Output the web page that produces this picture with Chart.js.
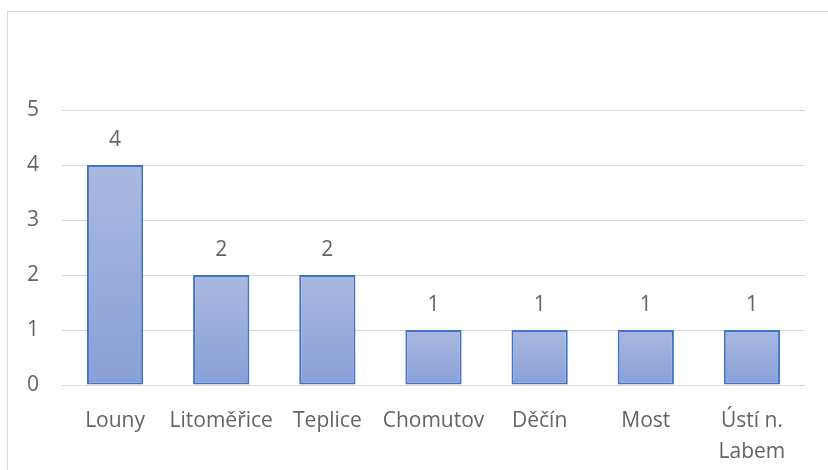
<!DOCTYPE html>
<html>
<head>
<meta charset="utf-8">
<script src="https://cdn.jsdelivr.net/npm/chart.js@4/dist/chart.umd.min.js"></script>
<style>
  html, body { margin: 0; padding: 0; background: #fff; overflow: hidden; }
  #frame { position: absolute; left: 7px; top: 11px; width: 840px; height: 480px; border: 1px solid #d9d9d9; }
  #wrap { position: absolute; left: 0; top: 0; width: 828px; height: 470px; }
</style>
</head>
<body>
<div id="frame"></div>
<div id="wrap"><canvas id="chart"></canvas></div>
<script>
const districts = ["Louny", "Litoměřice", "Teplice", "Chomutov", "Děčín", "Most", ["Ústí n.", "Labem"]];
const counts = [4, 2, 2, 1, 1, 1, 1];
const yTicks = [0, 1, 2, 3, 4, 5];

const textGray = "#646464";
const font = { family: "'Open Sans', sans-serif", size: 21, lineHeight: 1.5 };

// gradient per bar, light at the top, darker at the base
function barFill(ctx) {
    const chart = ctx.chart;
    if (!chart.chartArea || ctx.parsed == null) return "#9aaedc";
    const y = chart.scales.y;
    const top = y.getPixelForValue(ctx.parsed.y);
    const bottom = y.getPixelForValue(0);
    if (!(bottom > top)) return "#9aaedc";
    const g = chart.ctx.createLinearGradient(0, top, 0, bottom);
    g.addColorStop(0, "#aab9e0");
    g.addColorStop(1, "#88a0d8");
    return g;
}

const valueLabels = {
    id: "valueLabels",
    afterDatasetsDraw(chart) {
        const c = chart.ctx;
        const meta = chart.getDatasetMeta(0);
        c.save();
        c.fillStyle = textGray;
        c.font = font.size + "px " + font.family;
        c.textAlign = "center";
        c.textBaseline = "middle";
        meta.data.forEach((bar, i) => {
            c.fillText(String(counts[i]), bar.x, bar.y - 25);
        });
        c.restore();
    }
};

new Chart(document.getElementById("chart"), {
    type: "bar",
    data: {
        labels: districts,
        datasets: [{
            data: counts,
            backgroundColor: barFill,
            borderColor: "#4472c4",
            borderWidth: 2,
            borderSkipped: false,
            categoryPercentage: 1,
            barPercentage: 0.53
        }]
    },
    options: {
        responsive: true,
        maintainAspectRatio: false,
        animation: false,
        layout: { padding: { top: 110, right: 23, left: 0, bottom: 0 } },
        plugins: { legend: { display: false }, tooltip: { enabled: false } },
        scales: {
            x: {
                grid: { display: false },
                border: { display: false },
                ticks: { color: textGray, font: font, padding: 12, maxRotation: 0, autoSkip: false },
                afterFit: (s) => { s.height = 85; }
            },
            y: {
                min: 0,
                max: 5,
                afterBuildTicks: (s) => { s.ticks = yTicks.map(v => ({ value: v })); },
                grid: { color: "#d9d9d9", lineWidth: 1, drawTicks: false },
                border: { display: false },
                ticks: { color: textGray, font: font, padding: 23 },
                afterFit: (s) => { s.width = 62; }
            }
        }
    },
    plugins: [valueLabels]
});
</script>
</body>
</html>
